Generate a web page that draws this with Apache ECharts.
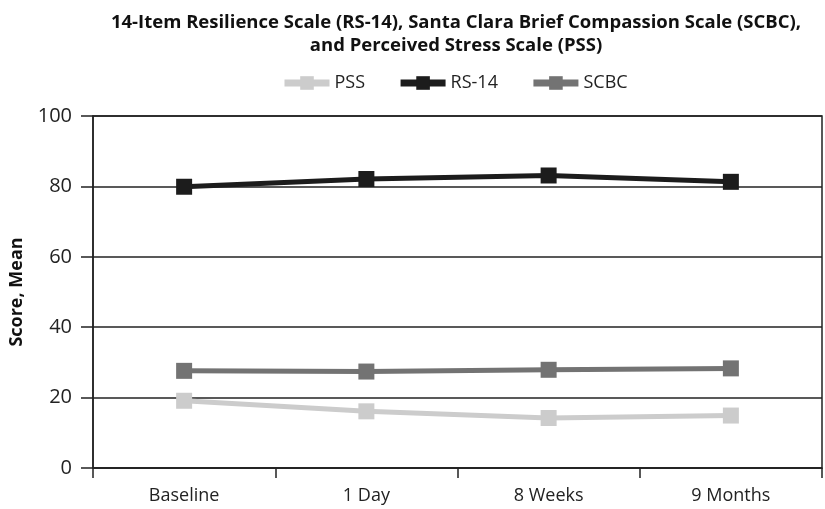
<!DOCTYPE html>
<html><head><meta charset="utf-8">
<script src="https://cdn.jsdelivr.net/npm/echarts@6/dist/echarts.min.js"></script>
<style>html,body{margin:0;padding:0;background:#fff}#c{width:825px;height:509px}</style>
</head><body><div id="c"></div>
<script>
const categories = ['Baseline', '1 Day', '8 Weeks', '9 Months'];
const pss = [19.1, 16.1, 14.2, 14.9];
const rs14 = [79.9, 82.1, 83.1, 81.3];
const scbc = [27.6, 27.4, 27.9, 28.3];
const yTicks = [0, 20, 40, 60, 80, 100];

const chart = echarts.init(document.getElementById('c'));
const FONT = '"Open Sans", sans-serif';
function mk(name, data, color) {
  return {
    name, type: 'line', data,
    symbol: 'rect', symbolSize: 16,
    lineStyle: { color, width: 5 },
    itemStyle: { color },
    emphasis: { disabled: true }
  };
}
chart.setOption({
  animation: false,
  textStyle: { fontFamily: FONT },
  title: {
    text: '14-Item Resilience Scale (RS-14), Santa Clara Brief Compassion Scale (SCBC),\nand Perceived Stress Scale (PSS)',
    left: 451, textAlign: 'center', top: 6,
    textStyle: { fontFamily: FONT, fontWeight: 'bold', fontSize: 18.5, lineHeight: 23, color: '#111' }
  },
  legend: {
    top: 69, left: 276,
    itemWidth: 45, itemHeight: 17, itemGap: 32,
    lineStyle: { width: 7 },
    textStyle: { fontFamily: FONT, fontSize: 18, color: '#222' },
    data: ['PSS', 'RS-14', 'SCBC']
  },
  grid: { left: 89, right: 3, top: 116, bottom: 41, show: true, borderColor: '#222', borderWidth: 1.5 },
  xAxis: {
    type: 'category', data: categories, boundaryGap: true,
    axisLine: { lineStyle: { color: '#222', width: 1.5 } },
    axisTick: { show: true, length: 10, lineStyle: { color: '#222', width: 1.5 } },
    axisLabel: { color: '#222', fontSize: 18, margin: 19, fontFamily: FONT }
  },
  yAxis: {
    type: 'value', min: 0, max: 100, interval: 20,
    name: 'Score, Mean', nameLocation: 'middle', nameGap: 67,
    nameTextStyle: { fontFamily: FONT, fontWeight: 'bold', fontSize: 18, color: '#111' },
    axisLine: { show: true, lineStyle: { color: '#222', width: 1.5 } },
    axisTick: { show: true, length: 12, lineStyle: { color: '#222', width: 1.5 } },
    axisLabel: { color: '#222', fontSize: 20, margin: 21, fontFamily: FONT,
      formatter: v => yTicks.includes(v) ? String(v) : '' },
    splitLine: { show: true, lineStyle: { color: '#222', width: 1.5 } }
  },
  series: [
    mk('PSS', pss, '#cccccc'),
    mk('RS-14', rs14, '#1c1c1c'),
    mk('SCBC', scbc, '#737373')
  ]
});
</script></body></html>
